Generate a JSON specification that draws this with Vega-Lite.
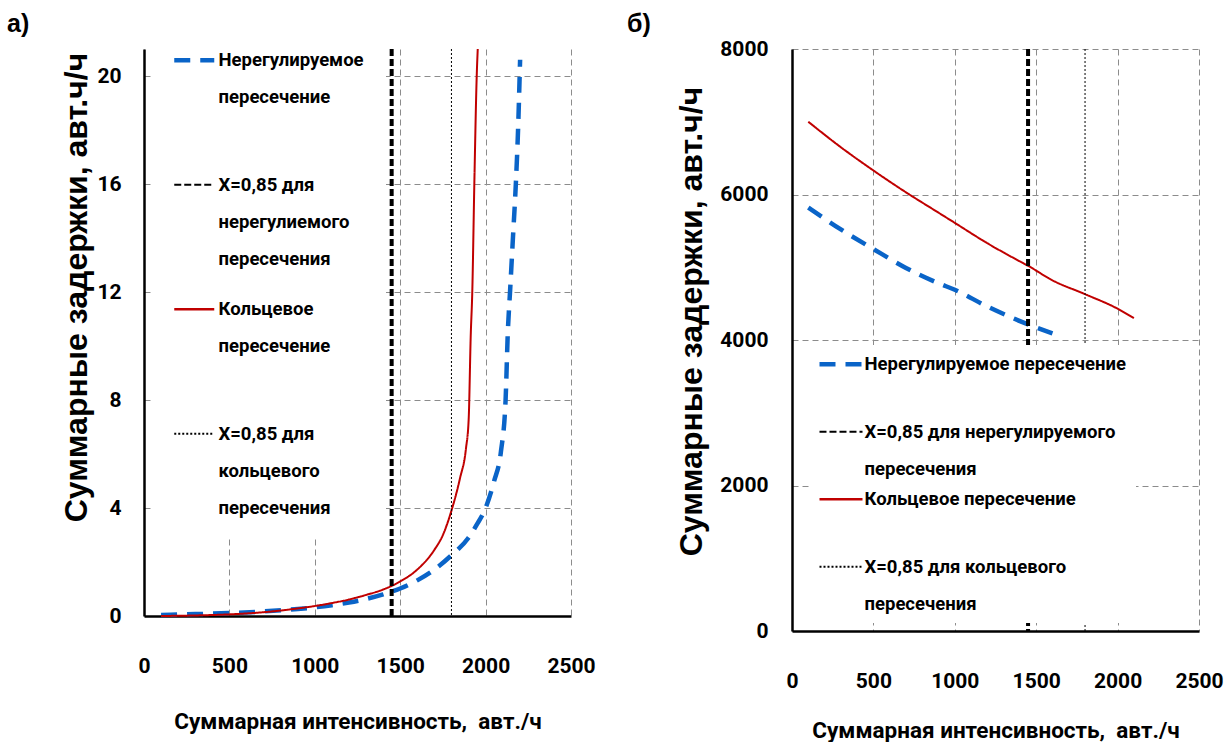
{
  "$schema": "https://vega.github.io/schema/vega-lite/v6.json",
  "background": "white",
  "padding": {"left": 7, "top": 12, "right": 5, "bottom": 0},
  "bounds": "flush",
  "spacing": 221,
  "config": {
    "view": {"stroke": null},
    "axis": {
      "domainColor": "black",
      "domainWidth": 2.5,
      "ticks": false,
      "tickSize": 0,
      "grid": true,
      "gridColor": "#8c8c8c",
      "gridDash": [6, 4],
      "gridWidth": 1,
      "labelFont": "Liberation Sans Narrow, Roboto, sans-serif",
      "labelFontWeight": "bold",
      "labelFontSize": 21,
      "labelColor": "black",
      "labelFlush": false,
      "labelOverlap": false,
      "titleFont": "Liberation Sans Narrow, Roboto, sans-serif",
      "titleFontWeight": "bold",
      "titleColor": "black"
    }
  },
  "resolve": {
    "scale": {"x": "independent", "y": "independent", "color": "independent", "strokeDash": "independent", "strokeWidth": "independent"},
    "legend": {"color": "independent"}
  },
  "hconcat": [
    {
      "width": 427,
      "height": 567,
      "title": {"text": "а)", "anchor": "start", "frame": "group", "font": "Liberation Sans", "fontSize": 25, "fontWeight": "bold", "color": "black", "offset": 0, "dx": -137, "dy": 8},
      "layer": [
        {
          "data": {"values": [
            {"series": "Нерегулируемое пересечение", "x": 100, "y": 0.04},
            {"series": "Нерегулируемое пересечение", "x": 300, "y": 0.07},
            {"series": "Нерегулируемое пересечение", "x": 500, "y": 0.11},
            {"series": "Нерегулируемое пересечение", "x": 700, "y": 0.17},
            {"series": "Нерегулируемое пересечение", "x": 900, "y": 0.26},
            {"series": "Нерегулируемое пересечение", "x": 1000, "y": 0.32},
            {"series": "Нерегулируемое пересечение", "x": 1100, "y": 0.40},
            {"series": "Нерегулируемое пересечение", "x": 1200, "y": 0.50},
            {"series": "Нерегулируемое пересечение", "x": 1300, "y": 0.63},
            {"series": "Нерегулируемое пересечение", "x": 1400, "y": 0.80},
            {"series": "Нерегулируемое пересечение", "x": 1500, "y": 1.02},
            {"series": "Нерегулируемое пересечение", "x": 1600, "y": 1.32},
            {"series": "Нерегулируемое пересечение", "x": 1700, "y": 1.72},
            {"series": "Нерегулируемое пересечение", "x": 1800, "y": 2.25},
            {"series": "Нерегулируемое пересечение", "x": 1900, "y": 2.9},
            {"series": "Нерегулируемое пересечение", "x": 1950, "y": 3.4},
            {"series": "Нерегулируемое пересечение", "x": 2000, "y": 4.0},
            {"series": "Нерегулируемое пересечение", "x": 2050, "y": 5.0},
            {"series": "Нерегулируемое пересечение", "x": 2090, "y": 6.1},
            {"series": "Нерегулируемое пересечение", "x": 2117, "y": 8.0},
            {"series": "Нерегулируемое пересечение", "x": 2130, "y": 10.5},
            {"series": "Нерегулируемое пересечение", "x": 2143, "y": 12.0},
            {"series": "Нерегулируемое пересечение", "x": 2160, "y": 14.0},
            {"series": "Нерегулируемое пересечение", "x": 2177, "y": 16.0},
            {"series": "Нерегулируемое пересечение", "x": 2190, "y": 18.0},
            {"series": "Нерегулируемое пересечение", "x": 2202, "y": 20.6},
            {"series": "Кольцевое пересечение", "x": 100, "y": 0.0},
            {"series": "Кольцевое пересечение", "x": 300, "y": 0.02},
            {"series": "Кольцевое пересечение", "x": 500, "y": 0.06},
            {"series": "Кольцевое пересечение", "x": 700, "y": 0.14},
            {"series": "Кольцевое пересечение", "x": 900, "y": 0.28},
            {"series": "Кольцевое пересечение", "x": 1000, "y": 0.37},
            {"series": "Кольцевое пересечение", "x": 1100, "y": 0.48},
            {"series": "Кольцевое пересечение", "x": 1200, "y": 0.61},
            {"series": "Кольцевое пересечение", "x": 1300, "y": 0.78},
            {"series": "Кольцевое пересечение", "x": 1400, "y": 0.98},
            {"series": "Кольцевое пересечение", "x": 1500, "y": 1.28},
            {"series": "Кольцевое пересечение", "x": 1600, "y": 1.72},
            {"series": "Кольцевое пересечение", "x": 1700, "y": 2.45},
            {"series": "Кольцевое пересечение", "x": 1750, "y": 3.0},
            {"series": "Кольцевое пересечение", "x": 1800, "y": 3.9},
            {"series": "Кольцевое пересечение", "x": 1850, "y": 5.1},
            {"series": "Кольцевое пересечение", "x": 1885, "y": 6.2},
            {"series": "Кольцевое пересечение", "x": 1901, "y": 7.3},
            {"series": "Кольцевое пересечение", "x": 1913, "y": 10.4},
            {"series": "Кольцевое пересечение", "x": 1922, "y": 12.0},
            {"series": "Кольцевое пересечение", "x": 1934, "y": 16.0},
            {"series": "Кольцевое пересечение", "x": 1948, "y": 20.0},
            {"series": "Кольцевое пересечение", "x": 1954, "y": 21.0}
          ]},
          "mark": {"type": "line", "interpolate": "monotone"},
          "encoding": {
            "x": {"field": "x", "type": "quantitative", "scale": {"domain": [0, 2500], "nice": false},
              "axis": {"values": [0, 500, 1000, 1500, 2000, 2500], "format": "d", "title": "Суммарная интенсивность,\u00a0 авт./ч", "titleFontSize": 22.5, "labelPadding": 39, "titlePadding": 34}},
            "y": {"field": "y", "type": "quantitative", "scale": {"domain": [0, 21], "nice": false},
              "axis": {"values": [0, 4, 8, 12, 16, 20], "format": "d", "title": "Суммарные задержки, авт.ч/ч", "titleFont": "Liberation Sans, Arial, sans-serif", "titleFontSize": 32, "labelPadding": 23, "titlePadding": 3, "titleY": 238}},
            "color": {"field": "series", "type": "nominal",
              "scale": {"domain": ["Нерегулируемое пересечение", "X=0,85 для нерегулиемого пересечения", "Кольцевое пересечение", "X=0,85 для кольцевого пересечения"], "range": ["#0a64c8", "black", "#c00000", "black"]},
              "legend": {
                "orient": "none", "legendX": 9, "legendY": -20, "title": null, "fillColor": "white", "padding": 22,
                "symbolType": "M-0.5,0H1.5", "symbolSize": 1600, "gridAlign": "all", "rowPadding": 31.5,
                "labelFont": "Liberation Sans Narrow, Roboto, sans-serif", "labelFontWeight": "bold", "labelFontSize": 18.5, "labelColor": "black",
                "labelBaseline": "top", "labelOffset": 25, "labelLimit": 400,
                "labelExpr": "datum.label == 'Нерегулируемое пересечение' ? ['Нерегулируемое', 'пересечение'] : datum.label == 'X=0,85 для нерегулиемого пересечения' ? ['X=0,85 для', 'нерегулиемого', 'пересечения'] : datum.label == 'Кольцевое пересечение' ? ['Кольцевое', 'пересечение'] : ['X=0,85 для', 'кольцевого', 'пересечения']",
                "encode": {
                  "labels": {"update": {"lineHeight": {"value": 37}, "dy": {"value": -9.25}}},
                  "symbols": {"update": {
                    "fill": {"value": "transparent"},
                    "strokeDash": {"signal": "datum.value == 'Нерегулируемое пересечение' ? [15, 11] : datum.value == 'Кольцевое пересечение' ? [1, 0] : indexof(datum.value, 'кольцевого') >= 0 ? [2, 2] : [6, 3]"},
                    "strokeWidth": {"signal": "datum.value == 'Нерегулируемое пересечение' ? 4.5 : datum.value == 'Кольцевое пересечение' ? 2.5 : 2"}
                  }}
                }
              }},
            "strokeDash": {"field": "series", "type": "nominal", "legend": null,
              "scale": {"domain": ["Нерегулируемое пересечение", "X=0,85 для нерегулиемого пересечения", "Кольцевое пересечение", "X=0,85 для кольцевого пересечения"], "range": [[16, 10], [7, 3], [1, 0], [2, 2]]}},
            "strokeWidth": {"field": "series", "type": "nominal", "legend": null,
              "scale": {"type": "ordinal", "domain": ["Нерегулируемое пересечение", "X=0,85 для нерегулиемого пересечения", "Кольцевое пересечение", "X=0,85 для кольцевого пересечения"], "range": [4.5, 2.5, 2, 1.8]}}
          }
        },
        {
          "data": {"values": [
            {"series": "X=0,85 для нерегулиемого пересечения", "x": 1450},
            {"series": "X=0,85 для кольцевого пересечения", "x": 1800}
          ]},
          "mark": "rule",
          "encoding": {
            "x": {"field": "x", "type": "quantitative"},
            "color": {"field": "series", "type": "nominal"},
            "strokeDash": {"field": "series", "type": "nominal", "legend": null},
            "strokeWidth": {"field": "series", "type": "nominal", "legend": null}
          }
        }
      ]
    },
    {
      "width": 407,
      "height": 582,
      "title": {"text": "б)", "anchor": "start", "frame": "group", "font": "Liberation Sans", "fontSize": 25, "fontWeight": "bold", "color": "black", "offset": 0, "dx": -165, "dy": -1},
      "layer": [
        {
          "data": {"values": [
            {"series": "Нерегулируемое пересечение", "x": 100, "y": 5820},
            {"series": "Нерегулируемое пересечение", "x": 300, "y": 5520},
            {"series": "Нерегулируемое пересечение", "x": 500, "y": 5250},
            {"series": "Нерегулируемое пересечение", "x": 700, "y": 4990},
            {"series": "Нерегулируемое пересечение", "x": 900, "y": 4780},
            {"series": "Нерегулируемое пересечение", "x": 1000, "y": 4690},
            {"series": "Нерегулируемое пересечение", "x": 1200, "y": 4460},
            {"series": "Нерегулируемое пересечение", "x": 1400, "y": 4260},
            {"series": "Нерегулируемое пересечение", "x": 1450, "y": 4215},
            {"series": "Нерегулируемое пересечение", "x": 1600, "y": 4090},
            {"series": "Кольцевое пересечение", "x": 100, "y": 7000},
            {"series": "Кольцевое пересечение", "x": 300, "y": 6650},
            {"series": "Кольцевое пересечение", "x": 500, "y": 6330},
            {"series": "Кольцевое пересечение", "x": 700, "y": 6030},
            {"series": "Кольцевое пересечение", "x": 900, "y": 5750},
            {"series": "Кольцевое пересечение", "x": 1000, "y": 5610},
            {"series": "Кольцевое пересечение", "x": 1200, "y": 5330},
            {"series": "Кольцевое пересечение", "x": 1400, "y": 5080},
            {"series": "Кольцевое пересечение", "x": 1450, "y": 5020},
            {"series": "Кольцевое пересечение", "x": 1600, "y": 4820},
            {"series": "Кольцевое пересечение", "x": 1800, "y": 4630},
            {"series": "Кольцевое пересечение", "x": 2000, "y": 4430},
            {"series": "Кольцевое пересечение", "x": 2100, "y": 4300}
          ]},
          "mark": {"type": "line", "interpolate": "monotone"},
          "encoding": {
            "x": {"field": "x", "type": "quantitative", "scale": {"domain": [0, 2500], "nice": false},
              "axis": {"values": [0, 500, 1000, 1500, 2000, 2500], "format": "d", "title": "Суммарная интенсивность,\u00a0 авт./ч", "titleFontSize": 22.5, "labelPadding": 39, "titlePadding": 28}},
            "y": {"field": "y", "type": "quantitative", "scale": {"domain": [0, 8000], "nice": false},
              "axis": {"values": [0, 2000, 4000, 6000, 8000], "format": "d", "title": "Суммарные задержки, авт.ч/ч", "titleFont": "Liberation Sans, Arial, sans-serif", "titleFontSize": 32, "labelPadding": 24, "titlePadding": 11, "titleY": 272}},
            "color": {"field": "series", "type": "nominal",
              "scale": {"domain": ["Нерегулируемое пересечение", "X=0,85 для нерегулируемого пересечения", "Кольцевое пересечение", "X=0,85 для кольцевого пересечения"], "range": ["#0a64c8", "black", "#c00000", "black"]},
              "legend": {
                "orient": "none", "legendX": 19, "legendY": 296, "title": null, "fillColor": "white", "padding": 10,
                "symbolType": "M-0.5,0H1.5", "symbolSize": 1850, "gridAlign": "all", "rowPadding": 11.5,
                "labelFont": "Liberation Sans Narrow, Roboto, sans-serif", "labelFontWeight": "bold", "labelFontSize": 18.5, "labelColor": "black",
                "labelBaseline": "top", "labelOffset": 25, "labelLimit": 500,
                "labelExpr": "datum.label == 'X=0,85 для нерегулируемого пересечения' ? ['X=0,85 для нерегулируемого', 'пересечения'] : datum.label == 'X=0,85 для кольцевого пересечения' ? ['X=0,85 для кольцевого', 'пересечения'] : datum.label",
                "encode": {
                  "labels": {"update": {"lineHeight": {"value": 37}, "dy": {"value": -9.25}}},
                  "symbols": {"update": {
                    "fill": {"value": "transparent"},
                    "strokeDash": {"signal": "datum.value == 'Нерегулируемое пересечение' ? [15, 11] : datum.value == 'Кольцевое пересечение' ? [1, 0] : indexof(datum.value, 'кольцевого') >= 0 ? [2, 2] : [6, 3]"},
                    "strokeWidth": {"signal": "datum.value == 'Нерегулируемое пересечение' ? 4.5 : datum.value == 'Кольцевое пересечение' ? 2.5 : 2"}
                  }}
                }
              }},
            "strokeDash": {"field": "series", "type": "nominal", "legend": null,
              "scale": {"domain": ["Нерегулируемое пересечение", "X=0,85 для нерегулируемого пересечения", "Кольцевое пересечение", "X=0,85 для кольцевого пересечения"], "range": [[16, 10], [7, 3], [1, 0], [2, 2]]}},
            "strokeWidth": {"field": "series", "type": "nominal", "legend": null,
              "scale": {"type": "ordinal", "domain": ["Нерегулируемое пересечение", "X=0,85 для нерегулируемого пересечения", "Кольцевое пересечение", "X=0,85 для кольцевого пересечения"], "range": [4.5, 2.5, 2, 1.8]}}
          }
        },
        {
          "data": {"values": [
            {"series": "X=0,85 для нерегулируемого пересечения", "x": 1450},
            {"series": "X=0,85 для кольцевого пересечения", "x": 1800}
          ]},
          "mark": "rule",
          "encoding": {
            "x": {"field": "x", "type": "quantitative"},
            "color": {"field": "series", "type": "nominal"},
            "strokeDash": {"field": "series", "type": "nominal", "legend": null},
            "strokeWidth": {"field": "series", "type": "nominal", "legend": null}
          }
        }
      ]
    }
  ]
}
